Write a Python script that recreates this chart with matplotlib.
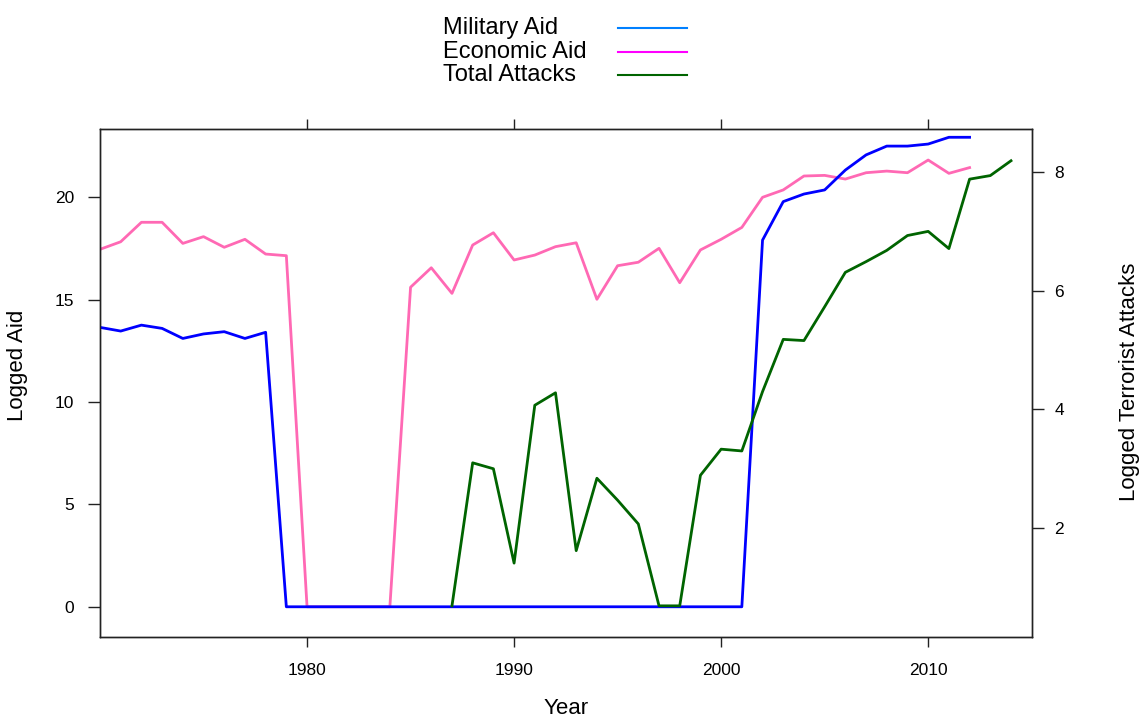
import numpy as np
import matplotlib
matplotlib.use("Agg")
import matplotlib.pyplot as plt
from matplotlib.lines import Line2D

plt.rcParams['font.family'] = ['Liberation Sans', 'DejaVu Sans']

years = list(range(1970, 2015))

military_aid = [13.64, 13.46, 13.75, 13.59, 13.10, 13.32, 13.43, 13.10, 13.40,
                0, 0, 0, 0, 0, 0, 0, 0, 0, 0, 0, 0, 0, 0, 0, 0, 0, 0, 0, 0, 0, 0, 0,
                17.90, 19.78, 20.15, 20.35, 21.32, 22.06, 22.49, 22.49, 22.59, 22.92, 22.92,
                np.nan, np.nan]

economic_aid = [17.45, 17.82, 18.77, 18.77, 17.74, 18.07, 17.55, 17.94, 17.22, 17.14,
                0, 0, 0, 0, 0,
                15.60, 16.55, 15.30, 17.66, 18.26, 16.93, 17.17, 17.58, 17.77, 15.01,
                16.65, 16.82, 17.50, 15.82, 17.42, 17.94, 18.52,
                19.99, 20.35, 21.03, 21.06, 20.88, 21.19, 21.27, 21.19, 21.81, 21.16, 21.44,
                np.nan, np.nan]

total_attacks = [np.nan] * 17 + [
    0.69, 3.10, 3.00, 1.41, 4.07, 4.28, 1.62, 2.84, 2.47, 2.07, 0.69, 0.69,
    2.89, 3.33, 3.30, 4.30, 5.18, 5.16, 5.73, 6.31, 6.49, 6.68, 6.93, 7.00,
    6.71, 7.88, 7.94, 8.19]

aid_ticks = [0, 5, 10, 15, 20]
attack_ticks = [2, 4, 6, 8]
year_ticks = [1980, 1990, 2000, 2010]

series_names = ["Military Aid", "Economic Aid", "Total Attacks"]
line_colors = ["#0000FF", "#FF69B4", "#006400"]
key_colors = ["#0080FF", "#FF00FF", "#006400"]

W, H = 1144, 719
fig = plt.figure(figsize=(W / 100, H / 100), dpi=100)
x0, x1, y0, y1 = 100, 1031.7, 129.3, 637.3
ax = fig.add_axes([x0 / W, 1 - y1 / H, (x1 - x0) / W, (y1 - y0) / H])
ax2 = ax.twinx()

ax.plot(years, military_aid, color=line_colors[0], lw=2.0, solid_joinstyle='round', zorder=3)
ax.plot(years, economic_aid, color=line_colors[1], lw=2.0, solid_joinstyle='round', zorder=2)
ax2.plot(years, total_attacks, color=line_colors[2], lw=2.0, solid_joinstyle='round')

ax.set_xlim(1970, 2015)
ax.set_ylim(-1.49, 23.31)
ax2.set_ylim(0.16, 8.72)

ax.set_xticks(year_ticks)
ax.set_yticks(aid_ticks)
ax2.set_yticks(attack_ticks)

for a in (ax, ax2):
    for s in a.spines.values():
        s.set_linewidth(1.0)
        s.set_color("#222222")

ax.tick_params(axis='x', which='both', direction='out', length=7.5, width=1.0,
               color="#222222", labelsize=12.5, pad=11, top=True, labeltop=False)
ax.tick_params(axis='y', direction='out', length=8.5, width=1.0, color="#222222",
               labelsize=12.5, pad=10, right=False)
ax2.tick_params(axis='y', direction='out', length=8.5, width=1.0, color="#222222",
                labelsize=12.5, pad=8)

ax.set_xlabel("Year", fontsize=16, labelpad=14.5)
fig.text(18 / W, 1 - 365 / H, "Logged Aid", rotation=90, fontsize=16,
         ha='center', va='center')
fig.text(1129 / W, 1 - 382 / H, "Logged Terrorist Attacks", rotation=90,
         fontsize=16, ha='center', va='center')

# key above the panel
row_y = [28.0, 51.5, 75.0]
for name, col, yy in zip(series_names, key_colors, row_y):
    fig.text(443 / W, 1 - yy / H, name, fontsize=17, ha='left', va='center')
    fig.add_artist(Line2D([617.7 / W, 686.7 / W], [1 - yy / H, 1 - yy / H],
                          color=col, lw=1.5, transform=fig.transFigure))

fig.savefig("out.png", dpi=100)
